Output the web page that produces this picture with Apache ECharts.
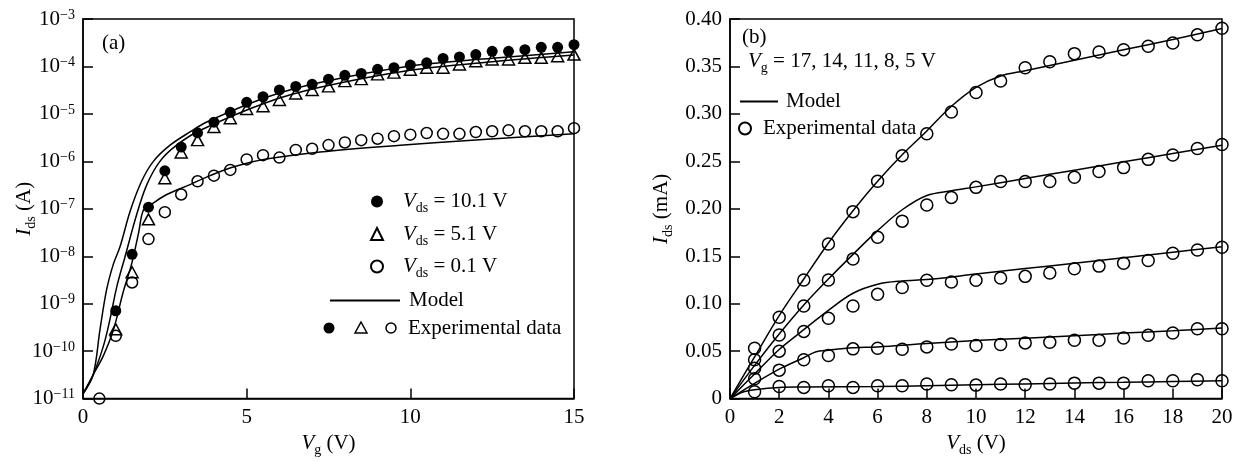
<!DOCTYPE html>
<html>
<head>
<meta charset="utf-8">
<script src="https://cdn.jsdelivr.net/npm/echarts@6/dist/echarts.min.js"></script>
<style>html,body{margin:0;background:#fff}#chart{width:1239px;height:462px}</style>
</head>
<body>
<div id="chart"></div>
<script>
/* Two-panel TFT I-V figure: (a) transfer curves on log scale, (b) output curves. */
const F = 'Liberation Serif';
const FS = 21;

// ---- panel (a): Ids vs Vg, three Vds ----
const vgA = [1, 1.5, 2, 2.5, 3, 3.5, 4, 4.5, 5, 5.5, 6, 6.5, 7, 7.5, 8, 8.5, 9, 9.5, 10, 10.5, 11, 11.5, 12, 12.5, 13, 13.5, 14, 14.5, 15];
const ids101 = [7.1e-10, 1.1e-8, 1.08e-7, 6.3e-7, 2.0e-6, 4.0e-6, 6.7e-6, 1.08e-5, 1.75e-5, 2.3e-5, 3.2e-5, 3.8e-5, 4.2e-5, 5.4e-5, 6.5e-5, 7.1e-5, 8.7e-5, 9.4e-5, 1.07e-4, 1.19e-4, 1.47e-4, 1.59e-4, 1.78e-4, 2.08e-4, 2.08e-4, 2.26e-4, 2.53e-4, 2.53e-4, 2.87e-4];
const ids51 = [2.9e-10, 4.6e-9, 6.0e-8, 4.4e-7, 1.54e-6, 2.8e-6, 5.3e-6, 8.1e-6, 1.27e-5, 1.45e-5, 1.96e-5, 2.7e-5, 3.2e-5, 3.8e-5, 4.9e-5, 5.4e-5, 6.8e-5, 7.4e-5, 8.5e-5, 9.4e-5, 9.4e-5, 1.1e-4, 1.29e-4, 1.4e-4, 1.4e-4, 1.52e-4, 1.52e-4, 1.64e-4, 1.78e-4];
const vgOpen = [0.5, 1, 1.5, 2, 2.5, 3, 3.5, 4, 4.5, 5, 5.5, 6, 6.5, 7, 7.5, 8, 8.5, 9, 9.5, 10, 10.5, 11, 11.5, 12, 12.5, 13, 13.5, 14, 14.5, 15];
const ids01 = [1.0e-11, 2.1e-10, 2.8e-9, 2.3e-8, 8.5e-8, 2.0e-7, 3.8e-7, 5.0e-7, 6.6e-7, 1.1e-6, 1.35e-6, 1.2e-6, 1.74e-6, 1.84e-6, 2.2e-6, 2.5e-6, 2.8e-6, 3.0e-6, 3.4e-6, 3.65e-6, 3.95e-6, 3.8e-6, 3.8e-6, 4.15e-6, 4.3e-6, 4.5e-6, 4.3e-6, 4.3e-6, 4.3e-6, 5.0e-6];

const mVg101 = [0, 0.31, 0.52, 0.72, 0.93, 1.13, 1.44, 1.79, 2.15, 2.66, 3.27, 3.78, 5.61, 7.24, 10, 12.5, 15];
const mIds101 = [1.26e-11, 3.16e-11, 2.88e-10, 1.95e-9, 6.9e-9, 1.58e-8, 8.9e-8, 3.8e-7, 1.0e-6, 2.19e-6, 4.17e-6, 6.76e-6, 2.24e-5, 4.57e-5, 1.02e-4, 1.48e-4, 2.04e-4];
const mVg51 = [0, 0.31, 0.62, 0.82, 1.03, 1.28, 1.64, 1.95, 2.35, 2.86, 3.57, 5.61, 7.24, 10, 12.5, 15];
const mIds51 = [1.26e-11, 3.16e-11, 1.26e-10, 4.57e-10, 2.24e-9, 9.55e-9, 7.59e-8, 3.24e-7, 1.0e-6, 2.19e-6, 4.47e-6, 1.74e-5, 3.63e-5, 8.32e-5, 1.26e-4, 1.74e-4];
const mVg01 = [0, 0.31, 0.62, 0.93, 1.23, 1.49, 1.7, 1.85, 2.1, 2.56, 3.27, 3.88, 4.64, 5.6, 7.24, 9.69, 12, 15];
const mIds01 = [1.26e-11, 3.16e-11, 7.94e-11, 2.82e-10, 1.78e-9, 7.08e-9, 3.16e-8, 9.55e-8, 1.26e-7, 2.0e-7, 3.24e-7, 5.0e-7, 7.76e-7, 1.12e-6, 1.58e-6, 2.19e-6, 2.82e-6, 3.8e-6];

// ---- panel (b): Ids (mA) vs Vds, Vg = 17, 14, 11, 8, 5 V ----
const vdsB = [1, 2, 3, 4, 5, 6, 7, 8, 9, 10, 11, 12, 13, 14, 15, 16, 17, 18, 19, 20];
const exp17 = [0.053, 0.0857, 0.125, 0.163, 0.197, 0.229, 0.256, 0.279, 0.302, 0.3226, 0.3347, 0.3486, 0.3549, 0.3635, 0.3653, 0.3677, 0.3712, 0.3747, 0.3833, 0.3903];
const exp14 = [0.041, 0.067, 0.0976, 0.125, 0.147, 0.170, 0.187, 0.204, 0.212, 0.2226, 0.2288, 0.2288, 0.2288, 0.2333, 0.2392, 0.2434, 0.2521, 0.2566, 0.2635, 0.2677];
const exp11 = [0.032, 0.050, 0.0708, 0.0847, 0.0976, 0.110, 0.117, 0.1247, 0.1229, 0.1247, 0.127, 0.1288, 0.1323, 0.1368, 0.1396, 0.1427, 0.1455, 0.1531, 0.1566, 0.1594];
const exp8 = [0.021, 0.030, 0.041, 0.0455, 0.0524, 0.053, 0.052, 0.0545, 0.0576, 0.0559, 0.057, 0.0587, 0.0594, 0.0615, 0.0615, 0.0639, 0.0667, 0.0691, 0.0736, 0.0736];
const exp5 = [0.0073, 0.0128, 0.0118, 0.0135, 0.0118, 0.0135, 0.0135, 0.0153, 0.0146, 0.0142, 0.0153, 0.0146, 0.0153, 0.0163, 0.0163, 0.0163, 0.0188, 0.0188, 0.0198, 0.0188];

const mVds17 = [0, 1, 2, 3, 4, 5, 6, 7, 8, 9, 10, 11, 12, 14, 16, 18, 20];
const mIds17 = [0, 0.044, 0.0875, 0.126, 0.164, 0.198, 0.229, 0.257, 0.282, 0.308, 0.328, 0.340, 0.3455, 0.3565, 0.3675, 0.3785, 0.390];
const mVds14 = [0, 1, 2, 3, 4, 5, 6, 7, 8, 9, 10, 12, 14, 16, 18, 20];
const mIds14 = [0, 0.035, 0.068, 0.0986, 0.126, 0.152, 0.177, 0.199, 0.214, 0.219, 0.2231, 0.2319, 0.2407, 0.2495, 0.2583, 0.267];
const mVds11 = [0, 1, 2, 3, 4, 5, 6, 7, 8, 10, 12, 14, 16, 18, 20];
const mIds11 = [0, 0.026, 0.0518, 0.0726, 0.093, 0.111, 0.1205, 0.124, 0.1255, 0.1312, 0.137, 0.1427, 0.1485, 0.1542, 0.160];
const mVds8 = [0, 1, 2, 3, 3.5, 4, 5, 6, 8, 10, 12, 14, 16, 18, 20];
const mIds8 = [0, 0.016, 0.031, 0.0431, 0.0493, 0.051, 0.0535, 0.0545, 0.058, 0.0612, 0.0637, 0.0663, 0.069, 0.0716, 0.0743];
const mVds5 = [0, 0.5, 1, 2, 3, 6, 8, 10, 12, 14, 16, 18, 20];
const mIds5 = [0, 0.0067, 0.0094, 0.0118, 0.0122, 0.0128, 0.0135, 0.0145, 0.0155, 0.0165, 0.0172, 0.018, 0.0188];

const zip = (xs, ys) => xs.map((x, i) => [x, ys[i]]);

const rich = {
  n: { fontFamily: F, fontSize: FS, lineHeight: 28 },
  i: { fontFamily: F, fontSize: FS, fontStyle: 'italic', lineHeight: 28 },
  sub: { fontFamily: F, fontSize: 14, verticalAlign: 'bottom', lineHeight: 12 },
};
const withPad = (key, p) => Object.assign({}, rich, { [key]: Object.assign({}, rich[key], { padding: [0, 0, 0, p] }) });

const legendNames = {
  v101: '{i|V}{sub|ds}{n| = 10.1 V}',
  v51: '{i|V}{sub|ds}{n| = 5.1 V}',
  v01: '{i|V}{sub|ds}{n| = 0.1 V}',
};

const black = '#000';
const axisCommon = {
  axisLine: { lineStyle: { color: black, width: 1.5 } },
  axisTick: { inside: true, length: 10, lineStyle: { color: black, width: 1.5 } },
  splitLine: { show: false },
  axisLabel: { color: black, fontFamily: F, fontSize: FS },
  nameLocation: 'middle',
  nameTextStyle: { color: black, fontFamily: F, fontSize: FS, rich },
};
const legendText = (r) => ({ color: black, fontFamily: F, fontSize: FS, rich: r });

const model = (name, data, gi) => ({
  name, type: 'line', xAxisIndex: gi, yAxisIndex: gi, data, showSymbol: false, symbol: 'none',
  smooth: 0.35, lineStyle: { color: black, width: 1.5 }, color: black, z: 2,
});
const dots = (name, data, gi, symbol, size, filled) => ({
  name, type: 'scatter', xAxisIndex: gi, yAxisIndex: gi, data, symbol, symbolSize: size, clip: false,
  itemStyle: { color: filled ? black : 'rgba(0,0,0,0)', borderColor: black, borderWidth: filled ? 0 : 1.5, opacity: 1 },
  z: 3,
});

const chart = echarts.init(document.getElementById('chart'));
chart.setOption({
  animation: false,
  textStyle: { fontFamily: F },
  grid: [
    { left: 83, top: 19, width: 491, height: 384, show: true, borderColor: black, borderWidth: 1.5 },
    { left: 730, top: 19, width: 492, height: 384, show: true, borderColor: black, borderWidth: 1.5 },
  ],
  xAxis: [
    Object.assign({}, axisCommon, { gridIndex: 0, type: 'value', min: 0, max: 15, interval: 5,
      name: '{i|V}{sub|g}{n| (V)}', nameGap: 28 }),
    Object.assign({}, axisCommon, { gridIndex: 1, type: 'value', min: 0, max: 20, interval: 2,
      name: '{i|V}{sub|ds}{n| (V)}', nameGap: 28 }),
  ],
  yAxis: [
    Object.assign({}, axisCommon, { gridIndex: 0, type: 'log', logBase: 10, min: 1e-11, max: 1e-3, splitNumber: 8,
      name: '{i|I}{sub|ds}{n| (A)}', nameGap: 45, nameMoveOverlap: false,
      axisLabel: Object.assign({}, axisCommon.axisLabel, {
        margin: 8,
        formatter: (v) => '{n|10}{sup|\u2212' + Math.abs(Math.round(Math.log10(v))) + '}',
        rich: { n: { fontFamily: F, fontSize: FS, lineHeight: 22 }, sup: { fontFamily: F, fontSize: 14, verticalAlign: 'top', lineHeight: 14 } },
      }) }),
    Object.assign({}, axisCommon, { gridIndex: 1, type: 'value', min: 0, max: 0.4, interval: 0.05,
      name: '{i|I}{sub|ds}{n| (mA)}', nameGap: 55,
      axisLabel: Object.assign({}, axisCommon.axisLabel, { margin: 8, formatter: (v) => (v === 0 ? '0' : v.toFixed(2)) }) }),
  ],
  legend: [
    { data: ['v101', 'v51', 'v01'], orient: 'vertical', left: 370, top: 191, padding: 0, itemWidth: 12, itemHeight: 12, itemGap: 8,
      selectedMode: false, formatter: (n) => legendNames[n], textStyle: legendText(withPad('i', 15)) },
    { data: ['Model'], left: 329, top: 290, padding: 0, itemWidth: 70, itemHeight: 12, selectedMode: false,
      itemStyle: { opacity: 0 }, formatter: '{n|Model}', textStyle: legendText(withPad('n', 4)) },
    { data: ['Model'], left: 739, top: 91, padding: 0, itemWidth: 38, itemHeight: 12, selectedMode: false,
      itemStyle: { opacity: 0 }, formatter: '{n|Model}', textStyle: legendText(withPad('n', 3)) },
    { data: ['Experimental data'], left: 738, top: 118, padding: 0, itemWidth: 12, itemHeight: 12, selectedMode: false,
      formatter: '{n|Experimental data}', textStyle: legendText(withPad('n', 7)) },
  ],
  graphic: [
    { type: 'text', left: 102, top: 33, style: { text: '(a)', font: FS + 'px ' + F, fill: black } },
    { type: 'text', left: 742, top: 27, style: { text: '(b)', font: FS + 'px ' + F, fill: black } },
    { type: 'text', left: 748, top: 51, style: { text: '{i|V}{sub|g}{n| = 17, 14, 11, 8, 5 V}', rich, fill: black } },
    // combined key row "● △ ○ Experimental data" in panel (a)
    { type: 'circle', shape: { cx: 329, cy: 328, r: 5.5 }, style: { fill: black } },
    { type: 'polygon', shape: { points: [[361, 322], [367, 333], [355, 333]] }, style: { fill: 'none', stroke: black, lineWidth: 1.5 } },
    { type: 'circle', shape: { cx: 391, cy: 328, r: 5 }, style: { fill: 'none', stroke: black, lineWidth: 1.5 } },
    { type: 'text', x: 408, y: 328, style: { text: 'Experimental data', font: FS + 'px ' + F, fill: black, verticalAlign: 'middle' } },
  ],
  series: [
    model('Model', zip(mVg101, mIds101), 0),
    model('Model', zip(mVg51, mIds51), 0),
    model('Model', zip(mVg01, mIds01), 0),
    dots('v101', zip(vgA, ids101), 0, 'circle', 11, true),
    dots('v51', zip(vgA, ids51), 0, 'triangle', [12, 11], false),
    dots('v01', zip(vgOpen, ids01), 0, 'circle', 11, false),
    model('Model', zip(mVds17, mIds17), 1),
    model('Model', zip(mVds14, mIds14), 1),
    model('Model', zip(mVds11, mIds11), 1),
    model('Model', zip(mVds8, mIds8), 1),
    model('Model', zip(mVds5, mIds5), 1),
    dots('Experimental data', zip(vdsB, exp17), 1, 'circle', 12, false),
    dots('Experimental data', zip(vdsB, exp14), 1, 'circle', 12, false),
    dots('Experimental data', zip(vdsB, exp11), 1, 'circle', 12, false),
    dots('Experimental data', zip(vdsB, exp8), 1, 'circle', 12, false),
    dots('Experimental data', zip(vdsB, exp5), 1, 'circle', 12, false),
  ],
});
window.addEventListener('resize', () => chart.resize());
</script>
</body>
</html>
